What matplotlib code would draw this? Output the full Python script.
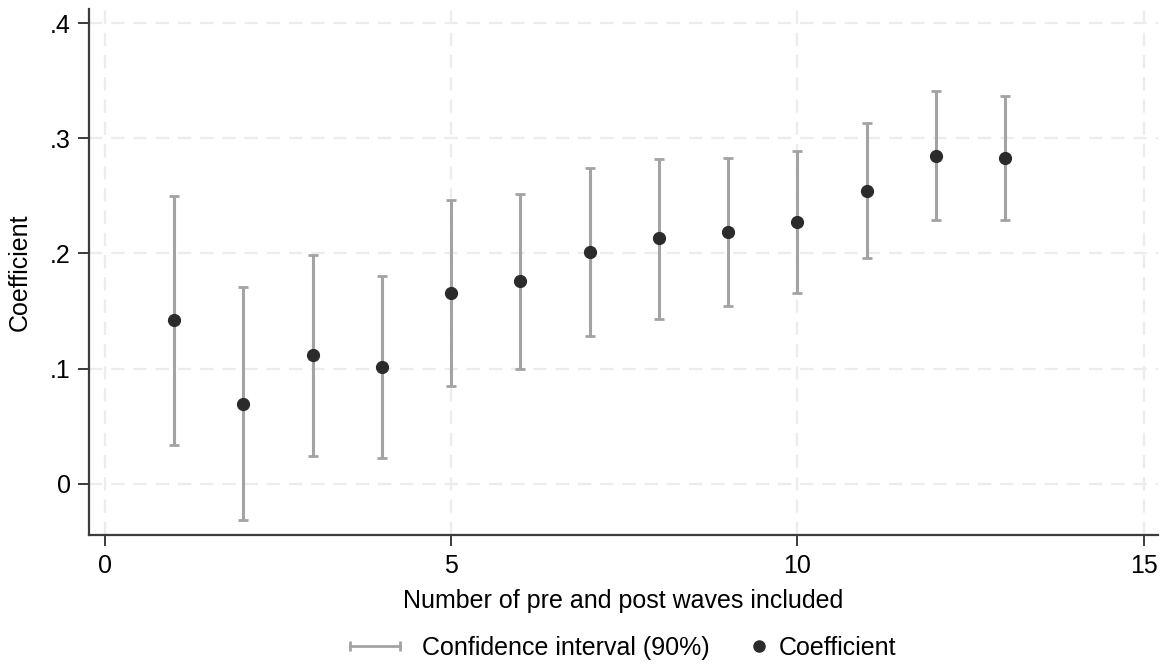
import numpy as np
import matplotlib.pyplot as plt
from matplotlib.lines import Line2D
from matplotlib.legend_handler import HandlerLine2D

plt.rcParams['font.family'] = ['Liberation Sans', 'DejaVu Sans']

# --- Data ---
waves = [1, 2, 3, 4, 5, 6, 7, 8, 9, 10, 11, 12, 13]
coef = [0.142, 0.069, 0.112, 0.101, 0.166, 0.176, 0.201, 0.213, 0.219, 0.227, 0.254, 0.285, 0.283]
ci_low = [0.034, -0.032, 0.024, 0.022, 0.085, 0.100, 0.128, 0.143, 0.154, 0.166, 0.196, 0.229, 0.229]
ci_high = [0.250, 0.171, 0.199, 0.180, 0.246, 0.252, 0.274, 0.282, 0.283, 0.289, 0.313, 0.341, 0.337]

x_ticks = [0, 5, 10, 15]
y_ticks = [0, 0.1, 0.2, 0.3, 0.4]
y_tick_labels = ['0', '.1', '.2', '.3', '.4']

coef = np.array(coef)
yerr = [coef - np.array(ci_low), np.array(ci_high) - coef]

ci_color = '#a3a3a3'
pt_color = '#2b2b2b'
axis_color = '#3c3c3c'
fs = 18

fig = plt.figure(figsize=(11.64, 6.66), dpi=100)
ax = fig.add_axes([0.0765, 0.196, 0.918, 0.79])

ax.errorbar(waves, coef, yerr=yerr, fmt='none', ecolor=ci_color, elinewidth=2.2,
            capsize=3.8, capthick=2.0, zorder=2)
ax.plot(waves, coef, 'o', color=pt_color, markersize=8.5, zorder=3)

ax.set_xlim(-0.23, 15.2)
ax.set_ylim(-0.045, 0.412)
ax.set_xticks(x_ticks)
ax.set_yticks(y_ticks)
ax.set_yticklabels(y_tick_labels)

ax.grid(True, color='#ececec', linestyle=(0, (6, 4)), linewidth=1.6)
ax.set_axisbelow(True)
for s in ['top', 'right']:
    ax.spines[s].set_visible(False)
for s in ['left', 'bottom']:
    ax.spines[s].set_color(axis_color)
    ax.spines[s].set_linewidth(1.6)
ax.tick_params(direction='out', length=8, width=1.4, color=axis_color,
               labelsize=fs, pad=5)

ax.set_xlabel('Number of pre and post waves included', fontsize=fs, labelpad=8)
ax.set_ylabel('Coefficient', fontsize=fs, labelpad=13)

# legend: two pieces so the spacing matches the original
ci_handle = Line2D([], [], color=ci_color, linewidth=2, marker='|', markersize=7,
                   markeredgewidth=2)
pt_handle = Line2D([], [], color=pt_color, linestyle='none', marker='o', markersize=8)
fig.legend([ci_handle], ['Confidence interval (90%)'],
           loc='center', bbox_to_anchor=(0.452, 0.027), frameon=False,
           fontsize=fs, handlelength=2.6, handletextpad=0.6,
           handler_map={ci_handle: HandlerLine2D(numpoints=2)})
fig.legend([pt_handle], ['Coefficient'],
           loc='center', bbox_to_anchor=(0.707, 0.027), frameon=False,
           fontsize=fs, handlelength=0.8, handletextpad=0.4, numpoints=1)

fig.savefig('out.png', dpi=100)
